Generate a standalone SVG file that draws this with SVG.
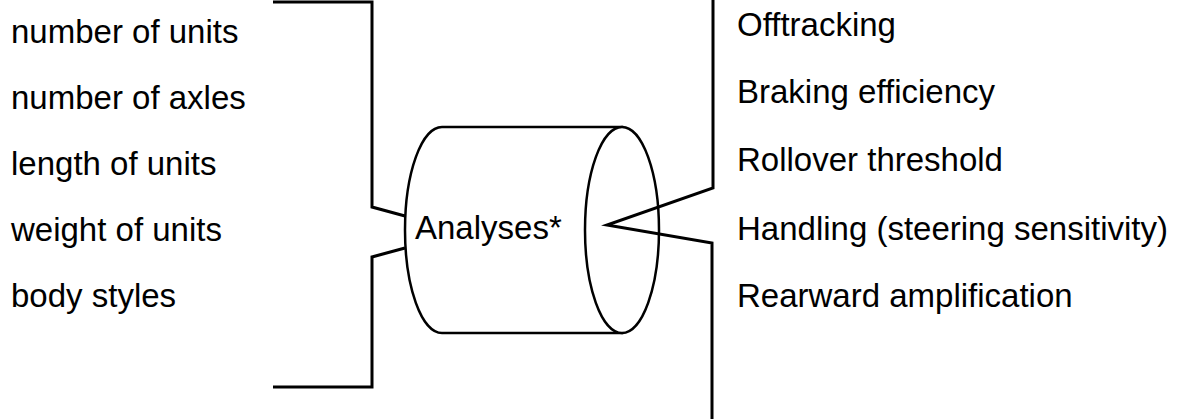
<svg xmlns="http://www.w3.org/2000/svg" width="1180" height="419" viewBox="0 0 1180 419">
<style>
.t{font-family:"Liberation Sans",Arial,Helvetica,sans-serif;font-size:33px;fill:#000}
.ln{fill:none;stroke:#000;stroke-width:3;stroke-linejoin:miter}
.cy{fill:#fff;stroke:#000;stroke-width:2.5}
</style>
<rect width="1180" height="419" fill="#fff"/>
<g id="inputs">
<text class="t" x="11" y="43">number of units</text>
<text class="t" x="11" y="109">number of axles</text>
<text class="t" x="11" y="175">length of units</text>
<text class="t" x="11" y="241">weight of units</text>
<text class="t" x="11" y="307">body styles</text>
</g>
<g id="analyses">
<path class="cy" d="M442,127 L622,127 L622,333 L442,333 A37,103 0 0 1 442,127 Z"/>
<ellipse class="cy" cx="622" cy="230" rx="37" ry="103"/>
<text class="t" x="415" y="239">Analyses*</text>
</g>
<g id="outputs">
<text class="t" x="737" y="36">Offtracking</text>
<text class="t" x="737" y="103">Braking efficiency</text>
<text class="t" x="737" y="171">Rollover threshold</text>
<text class="t" x="737" y="240">Handling (steering sensitivity)</text>
<text class="t" x="737" y="307">Rearward amplification</text>
</g>
<g id="connectors">
<path class="ln" d="M273,2 L372,2 L372,207 L405,216"/>
<path class="ln" d="M405,248 L372,257 L372,387 L273,387"/>
<path class="ln" d="M713,0 L713,188 L607,225 L712,243 L712,419"/>
</g>
</svg>
